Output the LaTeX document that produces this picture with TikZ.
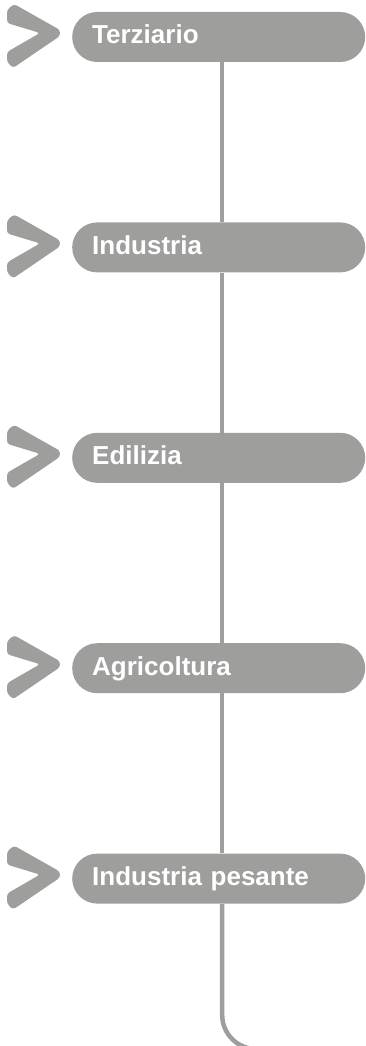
\documentclass[tikz,border=0pt]{standalone}
\usepackage{fontspec}
\setmainfont{Liberation Sans}
\usetikzlibrary{positioning}

\definecolor{pillgray}{RGB}{158,158,157}

\begin{document}
\begin{tikzpicture}[
          x=1pt, y=1pt,
          font=\bfseries\fontsize{26}{31}\selectfont,
          pill/.style={fill=pillgray, text=white, rounded corners=25pt,
                       minimum height=50pt, inner xsep=20pt, inner ysep=0pt,
                       text width=253pt, align=left,
                       text height=18pt, text depth=4pt},
          rail/.style={draw=pillgray, line width=4.5pt},
          chev/.style={fill=pillgray, rounded corners=3pt}
        ]
        \clip (0,0) rectangle (366,-1046);
        \node[pill, anchor=west] (ter) at (72,-37) {Terziario};
        \node[pill, below=160pt of ter] (ind) {Industria};
        \node[pill, below=160pt of ind] (edi) {Edilizia};
        \node[pill, below=160pt of edi] (agr) {Agricoltura};
        \node[pill, below=160pt of agr] (pes) {Industria pesante};

        % rail between the boxes
        \draw[rail] ([xshift=3.5pt]ter.south) -- ([xshift=3.5pt]ind.north);
        \draw[rail] ([xshift=3.5pt]ind.south) -- ([xshift=3.5pt]edi.north);
        \draw[rail] ([xshift=3.5pt]edi.south) -- ([xshift=3.5pt]agr.north);
        \draw[rail] ([xshift=3.5pt]agr.south) -- ([xshift=3.5pt]pes.north);
        \coordinate (tail) at (320,-1049);
        \draw[rail, rounded corners=34pt] ([xshift=3.5pt]pes.south) |- (tail);

        % chevrons
        \foreach \n in {ter, ind, edi, agr, pes}
          \fill[chev, shift={(\n.west)}] (-65,27) -- (-58,33) -- (-12,7) -- (-12,1)
                -- (-59,-31) -- (-65,-25) -- (-65,-15) -- (-32,4) -- (-65,14) -- cycle;
      \end{tikzpicture}
\end{document}
